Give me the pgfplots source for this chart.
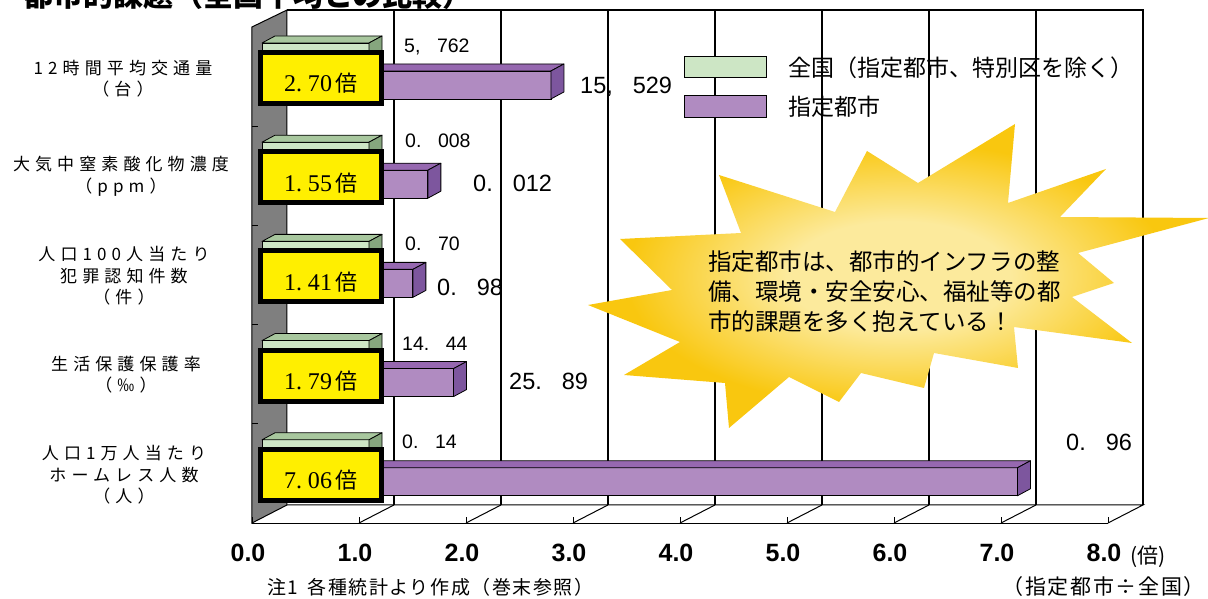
\documentclass[border=0pt]{standalone}
\usepackage{fontspec}
\usepackage{pgfplots}
\pgfplotsset{compat=1.18}
\setmainfont{Liberation Sans}
\newfontfamily\jp{Noto Sans CJK JP}
\newfontfamily\jpls[LetterSpace=30]{Noto Sans CJK JP}
\newfontfamily\jpfoot[LetterSpace=8]{Noto Sans CJK JP}
\newfontfamily\numserif{Liberation Serif}
\definecolor{gfront}{HTML}{CDE6C5}
\definecolor{gtop}{HTML}{A8C79E}
\definecolor{gside}{HTML}{86A67E}
\definecolor{pfront}{HTML}{B08BC1}
\definecolor{ptop}{HTML}{9668B0}
\definecolor{pside}{HTML}{7D569E}
\definecolor{boxyellow}{HTML}{FFEF00}
\definecolor{wallgray}{HTML}{7F7F7F}
\definecolor{burstout}{HTML}{F9C70F}
\definecolor{burstin}{HTML}{FCEA9C}
\pgfdeclareradialshading{burst}{\pgfpoint{0bp}{0bp}}{color(0bp)=(burstin); color(9bp)=(burstin); color(22bp)=(burstout); color(50bp)=(burstout)}
\newcommand\fs[2]{\fontsize{#1bp}{#2bp}\selectfont}
\newcommand\ppd{.\kern0.85em}
\newcommand\pcm{,\kern0.85em}
\tikzset{px/.style={x=1bp,y=-1bp,shift={(-252bp,523bp)}},
  lbig/.style={anchor=west,inner sep=0pt,text depth=0bp,font=\fs{23.5}{28}},
  lsmall/.style={anchor=west,inner sep=0pt,text depth=0bp,font=\fs{19.5}{24}},
  cat/.style={align=center,inner sep=0pt,font=\jpls\fs{17}{21.5}}}
\newcommand\barfaces[5]{%
  \pgfmathsetmacro\T{#3+99.2*#1}%
  \pgfmathsetmacro\E{262+107*#2}%
  \filldraw[fill=#4,draw=black,line width=0.8bp,line join=round] (262,\T) -- (\E,\T) -- ({\E+13},{\T-7}) -- (275,{\T-7}) -- cycle;
  \filldraw[fill=#5,draw=black,line width=0.8bp,line join=round] (\E,\T) -- ({\E+13},{\T-7}) -- ({\E+13},{\T+21}) -- (\E,{\T+28}) -- cycle;
}
\newcommand\ratiobox[2]{%
  \pgfmathsetmacro\T{52.5+99.2*#1}%
  \filldraw[fill=boxyellow,draw=black,line width=5bp] (260.5,\T) rectangle (381.5,{\T+51});
  \node[anchor=base,inner sep=0pt] at (321,{92+99.2*#1}) {{\numserif\fs{24}{28}#2}\kern0.4em{\jp\fs{22}{26}倍}};
}
\begin{document}
\begin{tikzpicture}
% walls and floor
\begin{scope}[px]
  \draw[line width=1.5bp] (287,10) -- (1143,10) -- (1143,505);
  \foreach \v in {1,...,7} \draw[line width=1.5bp] ({287+107*\v},10) -- ({287+107*\v},505);
  \draw[line width=1bp] (287,505) -- (1143,505) -- (1108,523);
  \foreach \v in {1,...,7} \draw[line width=1bp] ({252+107*\v},523) -- ({287+107*\v},505);
  \filldraw[fill=wallgray,draw=black,line width=1bp] (252,27) -- (287,10) -- (287,505) -- (252,523) -- cycle;
  \foreach \k in {1,...,4} \draw[line width=1bp] (252,{27+99.2*\k}) -- (258,{27+99.2*\k});
\end{scope}
\begin{axis}[
  scale only axis, width=856bp, height=513bp,
  xmin=0, xmax=8, ymin=0, ymax=513,
  clip=false,
  axis x line*=bottom, axis y line=none,
  x axis line style={-, line width=1bp, black},
  xtick={0,1,2,3,4,5,6,7,8},
  xticklabels={0.0,1.0,2.0,3.0,4.0,5.0,6.0,7.0,8.0},
  xticklabel style={font=\bfseries\fs{25}{30}, anchor=base, yshift=-38bp, xshift=-4bp, inner sep=0pt},
  tick align=inside, major tick length=6bp,
  xtick style={black, line width=1bp},
  ytick=\empty,
]
\addplot[xbar, bar shift=0pt, bar width=28, fill=gfront, draw=black, line width=0.8bp, xshift=10bp]
  coordinates {(1.0,466) (1.0,366.8) (1.0,267.6) (1.0,168.4) (1.0,69.2)};
\addplot[xbar, bar shift=0pt, bar width=28, fill=pfront, draw=black, line width=0.8bp, xshift=10bp]
  coordinates {(2.70,438) (1.55,338.8) (1.41,239.6) (1.79,140.4) (7.06,41.2)};
\end{axis}
\begin{scope}[px]
  % 3D faces
  \barfaces{0}{1.0}{43}{gtop}{gside}
  \barfaces{0}{2.70}{71}{ptop}{pside}
  \barfaces{1}{1.0}{43}{gtop}{gside}
  \barfaces{1}{1.55}{71}{ptop}{pside}
  \barfaces{2}{1.0}{43}{gtop}{gside}
  \barfaces{2}{1.41}{71}{ptop}{pside}
  \barfaces{3}{1.0}{43}{gtop}{gside}
  \barfaces{3}{1.79}{71}{ptop}{pside}
  \barfaces{4}{1.0}{43}{gtop}{gside}
  \barfaces{4}{7.06}{71}{ptop}{pside}
  % ratio boxes
  \ratiobox{0}{2.\kern0.25em70}
  \ratiobox{1}{1.\kern0.25em55}
  \ratiobox{2}{1.\kern0.25em41}
  \ratiobox{3}{1.\kern0.25em79}
  \ratiobox{4}{7.\kern0.25em06}
  % value labels
  \node[lsmall] at (404,46) {5\pcm762};
  \node[lbig] at (580,85) {15\pcm529};
  \node[lsmall] at (405,141) {0\ppd008};
  \node[lbig] at (473,183) {0\ppd012};
  \node[lsmall] at (405,244) {0\ppd70};
  \node[lbig] at (437,287) {0\ppd98};
  \node[lsmall] at (402,344) {14\ppd44};
  \node[lbig] at (509,381) {25\ppd89};
  \node[lsmall] at (402,442) {0\ppd14};
  \node[lbig] at (1066,442) {0\ppd96};
  % category labels
  \node[cat] at (123,78.5) {12時間平均交通量\\（台）};
  \node[cat] at (121,176.5) {大気中窒素酸化物濃度\\（ppm）};
  \node[cat] at (124,276) {人口100人当たり\\犯罪認知件数\\（件）};
  \node[cat] at (126,374.5) {生活保護保護率\\（‰）};
  \node[cat] at (124,475) {人口1万人当たり\\ホームレス人数\\（人）};
  % legend
  \filldraw[fill=gfront,draw=black,line width=1bp] (684,57) rectangle (766,78);
  \filldraw[fill=pfront,draw=black,line width=1bp] (684,96) rectangle (766,118);
  \node[anchor=west,inner sep=0pt,font=\jp\fs{23}{27}] at (788,67.5) {全国（指定都市、特別区を除く）};
  \node[anchor=west,inner sep=0pt,font=\jp\fs{23}{27}] at (788,107) {指定都市};
  % starburst callout
  \shade[shading=burst]
    (1015,124) -- (1008,203) -- (1106,169) -- (1060,217) -- (1209,218) -- (1078,253) -- (1114,283) -- (1072,297)
    -- (1132,343) -- (1014,327) -- (1018,368) -- (934,353) -- (924,388) -- (861,373) -- (839,402) -- (789,377)
    -- (729,428) -- (725,383) -- (624,375) -- (680,342) -- (588,305) -- (672,290) -- (620,239) -- (741,233)
    -- (719,175) -- (835,212) -- (867,151) -- (918,183) -- cycle;
  \node[anchor=west,inner sep=0pt,font=\jp\fs{23.5}{30}] at (708,262) {指定都市は、都市的インフラの整};
  \node[anchor=west,inner sep=0pt,font=\jp\fs{23.5}{30}] at (708,292) {備、環境・安全安心、福祉等の都};
  \node[anchor=west,inner sep=0pt,font=\jp\fs{23.5}{30}] at (708,322) {市的課題を多く抱えている！};
  % texts
  \node[anchor=west,inner sep=0pt,font=\jp\fs{21}{24}] at (1130,557) {(倍)};
  \node[anchor=west,inner sep=0pt,font=\jpfoot\fs{19}{22}] at (267,587) {注1\hspace{0.5em}各種統計より作成（巻末参照）};
  \node[anchor=east,inner sep=0pt,font=\jpfoot\fs{21}{24}] at (1205,587) {（指定都市÷全国）};
  \node[anchor=base west,inner sep=0pt,font=\jp\bfseries\fs{30}{36}] at (23,7) {都市的課題（全国平均との比較）};
  \pgfresetboundingbox
  \path[use as bounding box] (0,0) rectangle (1208,599);
\end{scope}
\end{tikzpicture}
\end{document}
